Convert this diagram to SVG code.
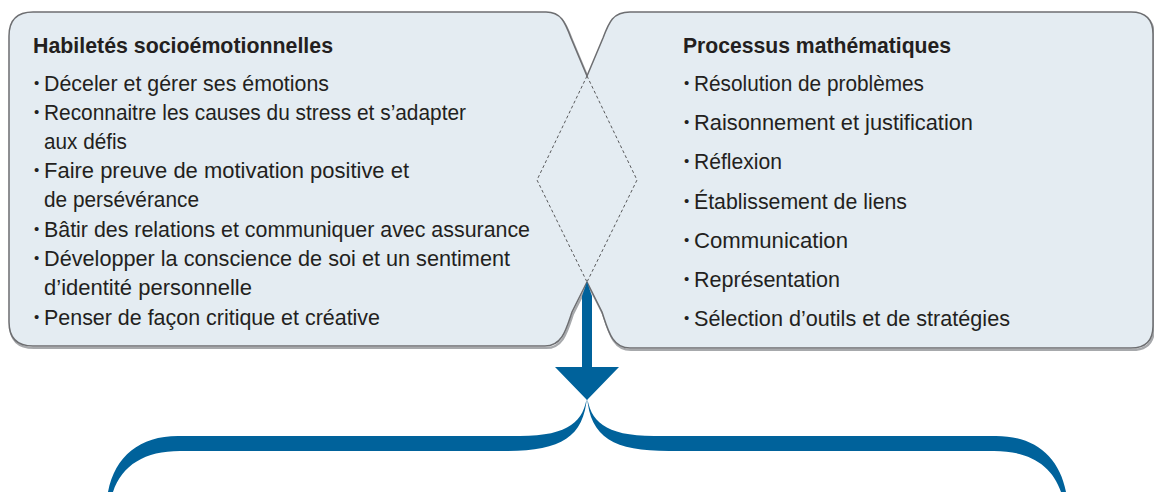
<svg xmlns="http://www.w3.org/2000/svg" width="1154" height="492" viewBox="0 0 1154 492">
<style>
.fill{fill:#e4ecf2;stroke:none}
.edge{fill:none;stroke:#6d6e71;stroke-width:1.5}
.shadow{fill:none;stroke:#a7a9ac;stroke-width:2.2}
.dash{fill:none;stroke:#58595b;stroke-width:1;stroke-dasharray:3 2.5}
.t{font-family:"Liberation Sans",Arial,sans-serif;font-size:22px;fill:#231f20}
.h{font-family:"Liberation Sans",Arial,sans-serif;font-size:22px;font-weight:bold;fill:#231f20}
.b{font-family:"Liberation Sans",Arial,sans-serif;font-size:15px;fill:#231f20}
.blue{fill:#00629b;stroke:none}
</style>
<g id="shadows">
<path class="shadow" transform="translate(1,2)" d="M 587,76 L 571,38 C 565,22 561,12 546,12 H 33 Q 9,12 9,36 V 322 Q 9,346 33,346 H 545 C 562,346 566,330 572,312 L 587,282"/>
<path class="shadow" transform="translate(1,2)" d="M 587,76 L 603,38 C 609,22 613,12 630,12 H 1131 Q 1153,12 1153,34 V 326 Q 1153,348 1131,348 H 630 C 612,348 608,330 602,312 L 587,282"/>
</g>
<g id="habiletes">
<path class="fill" d="M 33,12 H 546 C 561,12 565,22 571,38 L 587,76 L 637,180 L 587,282 L 572,312 C 566,330 562,346 545,346 H 33 Q 9,346 9,322 V 36 Q 9,12 33,12 Z"/>
</g>
<g id="processus">
<path class="fill" d="M 587,76 L 603,38 C 609,22 613,12 630,12 H 1131 Q 1153,12 1153,34 V 326 Q 1153,348 1131,348 H 630 C 612,348 608,330 602,312 L 587,282 L 537,180 Z"/>
</g>
<g id="outlines">
<path class="edge" d="M 587,76 L 571,38 C 565,22 561,12 546,12 H 33 Q 9,12 9,36 V 322 Q 9,346 33,346 H 545 C 562,346 566,330 572,312 L 587,282"/>
<path class="edge" d="M 587,76 L 603,38 C 609,22 613,12 630,12 H 1131 Q 1153,12 1153,34 V 326 Q 1153,348 1131,348 H 630 C 612,348 608,330 602,312 L 587,282"/>
</g>
<g id="overlap">
<path class="dash" d="M 587,76 L 537,180 L 587,282 M 587,76 L 637,180 L 587,282"/>
</g>
<g id="habiletes-text">
<text class="h" x="33" y="53" textLength="300" lengthAdjust="spacingAndGlyphs">Habiletés socioémotionnelles</text>
<text class="b" x="34" y="88">•</text>
<text class="t" x="44" y="91" textLength="285" lengthAdjust="spacingAndGlyphs">Déceler et gérer ses émotions</text>
<text class="b" x="34" y="117">•</text>
<text class="t" x="44" y="120" textLength="422" lengthAdjust="spacingAndGlyphs">Reconnaitre les causes du stress et s’adapter</text>
<text class="t" x="44" y="149" textLength="83" lengthAdjust="spacingAndGlyphs">aux défis</text>
<text class="b" x="34" y="175">•</text>
<text class="t" x="44" y="178" textLength="365" lengthAdjust="spacingAndGlyphs">Faire preuve de motivation positive et</text>
<text class="t" x="44" y="207" textLength="155" lengthAdjust="spacingAndGlyphs">de persévérance</text>
<text class="b" x="34" y="234">•</text>
<text class="t" x="44" y="237" textLength="486" lengthAdjust="spacingAndGlyphs">Bâtir des relations et communiquer avec assurance</text>
<text class="b" x="34" y="263">•</text>
<text class="t" x="44" y="266" textLength="466" lengthAdjust="spacingAndGlyphs">Développer la conscience de soi et un sentiment</text>
<text class="t" x="44" y="295" textLength="208" lengthAdjust="spacingAndGlyphs">d’identité personnelle</text>
<text class="b" x="34" y="322">•</text>
<text class="t" x="44" y="325" textLength="336" lengthAdjust="spacingAndGlyphs">Penser de façon critique et créative</text>
</g>
<g id="processus-text">
<text class="h" x="683" y="53" textLength="268" lengthAdjust="spacingAndGlyphs">Processus mathématiques</text>
<text class="b" x="684" y="88">•</text>
<text class="t" x="694" y="91" textLength="230" lengthAdjust="spacingAndGlyphs">Résolution de problèmes</text>
<text class="b" x="684" y="127">•</text>
<text class="t" x="694" y="130" textLength="279" lengthAdjust="spacingAndGlyphs">Raisonnement et justification</text>
<text class="b" x="684" y="166">•</text>
<text class="t" x="694" y="169" textLength="88" lengthAdjust="spacingAndGlyphs">Réflexion</text>
<text class="b" x="684" y="206">•</text>
<text class="t" x="694" y="209" textLength="213" lengthAdjust="spacingAndGlyphs">Établissement de liens</text>
<text class="b" x="684" y="245">•</text>
<text class="t" x="694" y="248" textLength="154" lengthAdjust="spacingAndGlyphs">Communication</text>
<text class="b" x="684" y="284">•</text>
<text class="t" x="694" y="287" textLength="146" lengthAdjust="spacingAndGlyphs">Représentation</text>
<text class="b" x="684" y="323">•</text>
<text class="t" x="694" y="326" textLength="316" lengthAdjust="spacingAndGlyphs">Sélection d’outils et de stratégies</text>
</g>
<g id="connectors">
<path class="blue" d="M 587,282 L 592,296 V 367 H 619 L 587,400 L 555,367 H 582 V 296 Z"/>
<path class="blue" d="M 587,396 C 584,420 570,436 520,436 H 178 C 140,436 115,456 108,492 L 113,492 C 122,465 145,451 180,451 H 505 C 560,451 584,438 587,396 Z"/>
<path class="blue" d="M 587,396 C 590,420 604,436 654,436 H 996 C 1034,436 1059,456 1066,492 L 1061,492 C 1052,465 1029,451 994,451 H 669 C 614,451 590,438 587,396 Z"/>
</g>
</svg>
